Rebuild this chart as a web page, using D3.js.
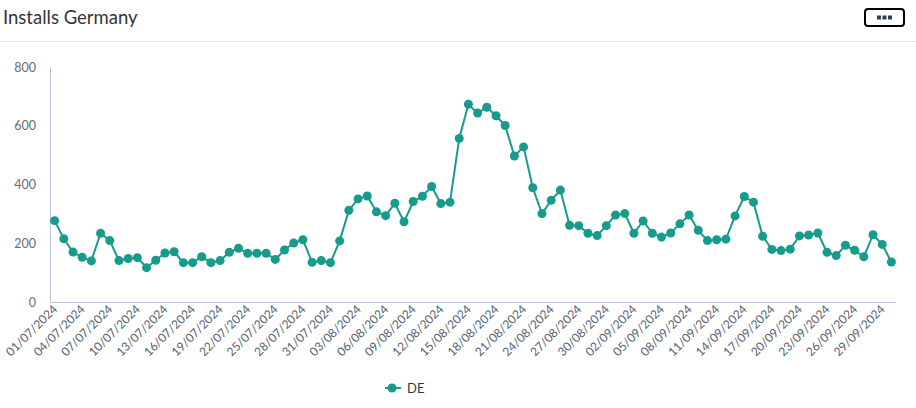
<!DOCTYPE html>
<html>
<head>
<meta charset="utf-8">
<script src="https://cdn.jsdelivr.net/npm/d3@7/dist/d3.min.js"></script>
<style>
  html, body { margin: 0; padding: 0; background: #fff; }
  svg { display: block; font-family: "Lato", "Open Sans", sans-serif; }
</style>
</head>
<body>
<svg id="chart" width="916" height="408"></svg>
<script>
const title = "Installs Germany";
const seriesName = "DE";
const startDate = "2024-07-01";
const dayCount = 92;
const values = [
  277, 215, 170, 152, 140, 234, 209, 141, 148, 151,
  117, 142, 167, 171, 134, 134, 154, 134, 141, 169,
  183, 166, 166, 166, 145, 177, 201, 212, 135, 141,
  134, 208, 312, 351, 361, 307, 294, 336, 273, 342,
  360, 393, 335, 340, 557, 673, 643, 663, 634, 601,
  497, 528, 389, 301, 346, 381, 261, 260, 234, 226,
  260, 296, 301, 234, 276, 234, 221, 235, 266, 296,
  244, 209, 212, 214, 293, 359, 340, 224, 179, 175,
  180, 225, 228, 235, 169, 158, 193, 176, 154, 229,
  196, 136
];
const yTicks = [0, 200, 400, 600, 800];
const labelEvery = 3;

const fmt = d3.timeFormat("%d/%m/%Y");
const start = d3.timeParse("%Y-%m-%d")(startDate);
const dates = d3.range(dayCount).map(i => d3.timeDay.offset(start, i));
const labels = dates.map(fmt);
const data = labels.map((l, i) => ({ label: l, value: values[i] }));

const svg = d3.select("#chart");
const W = 916, H = 408;
const m = { left: 50, right: 20, top: 67, bottom: 106 };

// header
svg.append("text").attr("x", 3).attr("y", 24)
  .attr("font-size", 18.5).attr("fill", "#32363a").text(title);
svg.append("line").attr("x1", 0).attr("x2", W).attr("y1", 41.5).attr("y2", 41.5)
  .attr("stroke", "#e5e5e5");
const btn = svg.append("g");
btn.append("rect").attr("x", 865).attr("y", 9).attr("width", 39).attr("height", 17)
  .attr("rx", 3).attr("fill", "#fff").attr("stroke", "#000").attr("stroke-width", 2);
[879, 884.5, 890].forEach(cx => {
  btn.append("rect").attr("x", cx - 2).attr("y", 15.5).attr("width", 4).attr("height", 4)
    .attr("fill", "#2c3e56");
});

const x = d3.scalePoint().domain(labels).range([m.left, W - m.right]).padding(0.5);
const y = d3.scaleLinear().domain([0, 800]).range([H - m.bottom, m.top]);

// y axis
const yAxis = svg.append("g").attr("transform", `translate(${m.left},0)`)
  .call(d3.axisLeft(y).tickValues(yTicks).tickSize(0).tickPadding(14));
yAxis.select(".domain").attr("stroke", "#b8c4d2");
yAxis.selectAll("text").attr("font-size", 12.5).attr("fill", "#6a6d70")
  .attr("font-family", "Lato, 'Open Sans', sans-serif");

// x axis
const xAxis = svg.append("g").attr("transform", `translate(0,${H - m.bottom})`)
  .call(d3.axisBottom(x).tickValues(labels.filter((d, i) => i % labelEvery === 0)).tickSize(0).tickPadding(0));
xAxis.select(".domain").attr("stroke", "#b8c4d2").attr("d", `M${m.left},0.5H${W - m.right}`);
xAxis.selectAll("text")
  .attr("font-size", 12).attr("fill", "#556070")
  .attr("font-family", "Lato, 'Open Sans', sans-serif")
  .attr("text-anchor", "end")
  .attr("dy", 0)
  .attr("transform", "translate(3,8) rotate(-45)");

const color = "#179b8c";
const line = d3.line().x(d => x(d.label)).y(d => y(d.value));
svg.append("path").datum(data).attr("d", line)
  .attr("fill", "none").attr("stroke", color).attr("stroke-width", 2);
svg.append("g").selectAll("circle").data(data).join("circle")
  .attr("cx", d => x(d.label)).attr("cy", d => y(d.value)).attr("r", 4.5)
  .attr("fill", color);

// legend
const lg = svg.append("g").attr("transform", "translate(392,388)");
lg.append("line").attr("x1", -7).attr("x2", 9).attr("stroke", color).attr("stroke-width", 2);
lg.append("circle").attr("r", 4.5).attr("fill", color);
lg.append("text").attr("x", 15).attr("y", 5).attr("font-size", 13).attr("fill", "#32363a").text(seriesName);
</script>
</body>
</html>
